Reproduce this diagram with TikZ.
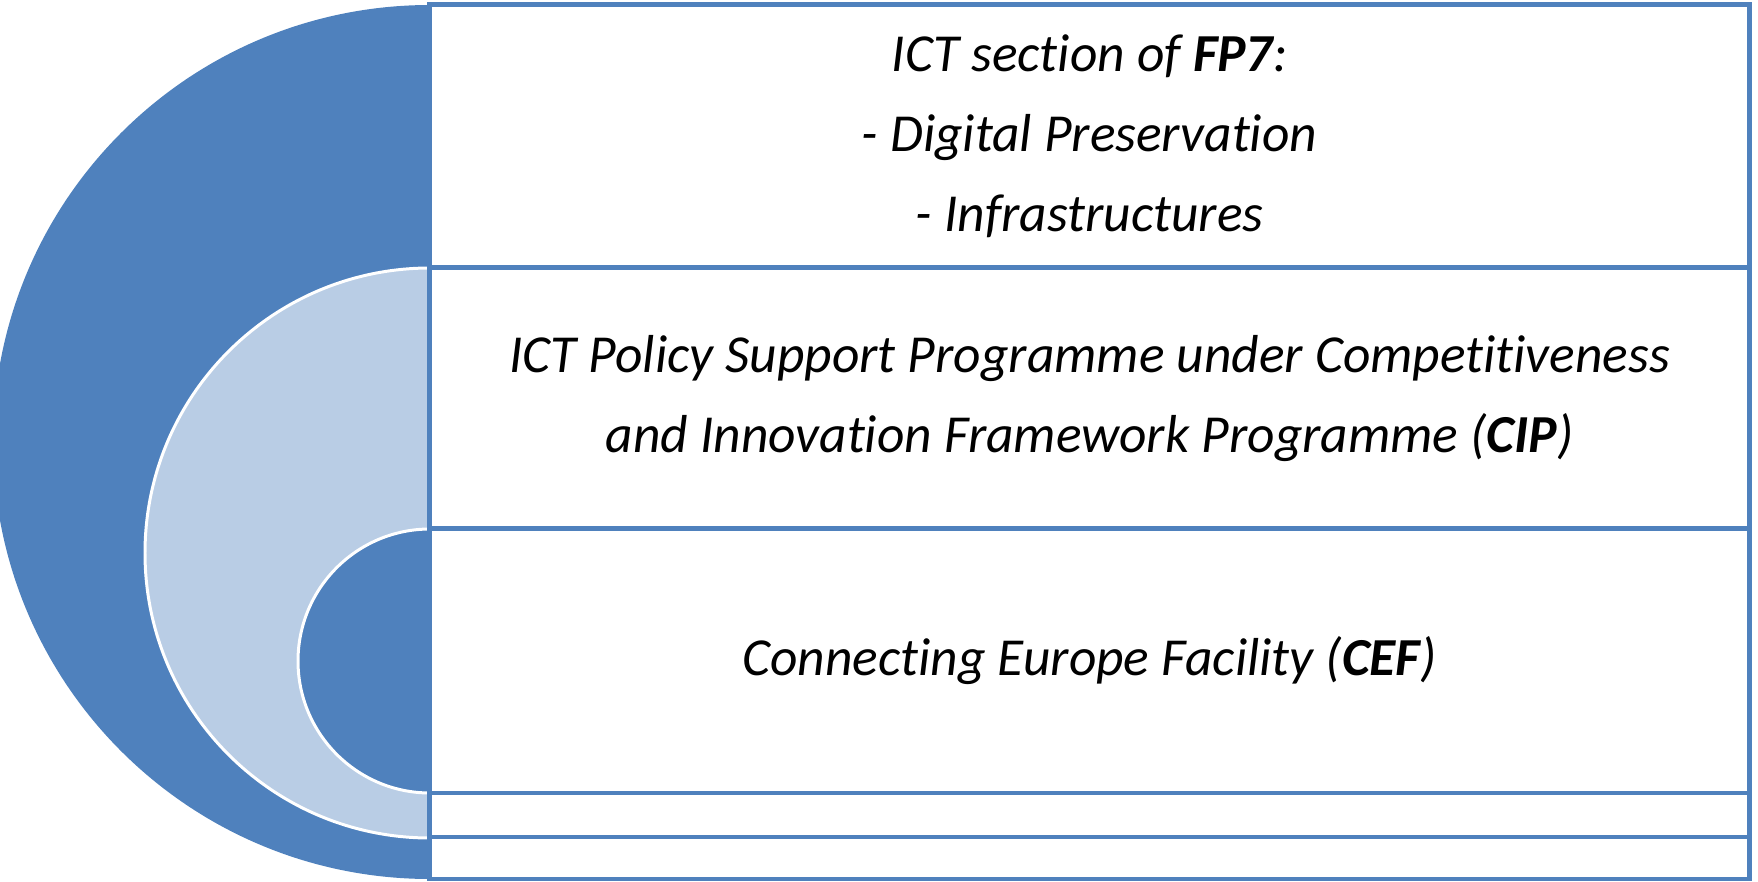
\documentclass[tikz,border=0pt]{standalone}
\usepackage{fontspec}
\setmainfont{Carlito}[RawFeature={-liga;-clig;-calt;-dlig}]
\definecolor{ringblue}{HTML}{4F81BD}
\definecolor{ringlight}{HTML}{B9CDE5}

\begin{document}
\begin{tikzpicture}
        [x=0.01cm, y=0.01cm, every node/.style={draw=ringblue, line width=1.4pt, fill=white, inner sep=0, minimum width=13.19cm, align=center, font=\fontsize{15.2}{22.8}\selectfont\itshape}]

        \useasboundingbox (0,0) rectangle (1758,881);
        \clip (0,0) rectangle (1758,881);

        \fill[ringblue] (430,876) arc[start angle=90, end angle=270, radius=437] -- cycle;
        \filldraw[fill=ringlight, draw=white, line width=0.85pt] (430,613) arc[start angle=90, end angle=270, radius=285] -- cycle;
        \filldraw[fill=ringblue, draw=white, line width=0.85pt] (430,352) arc[start angle=90, end angle=270, radius=132] -- cycle;

        \node[minimum height=2.63cm] (fp7) at (1089.5, 744.5) {ICT section of \textbf{FP7}:\\- Digital Preservation\\- Infrastructures};
        \node[minimum height=2.61cm] (cip) at (1089.5, 482.5) {ICT Policy Support Programme under Competitiveness\\and Innovation Framework Programme (\textbf{CIP})};
        \node[minimum height=2.64cm] (cef) at (1089.5, 220) {Connecting Europe Facility (\textbf{CEF})};
        \node[minimum height=0.44cm] (rowd) at (1089.5, 66) {};
        \node[minimum height=0.42cm] (rowe) at (1089.5, 23) {};

      \end{tikzpicture}
\end{document}
